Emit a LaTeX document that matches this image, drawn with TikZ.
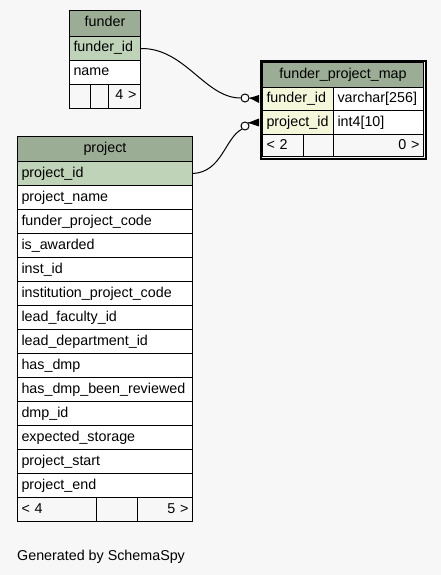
\documentclass[tikz,border=0pt]{standalone}
\usepackage{fontspec}
\setmainfont{Liberation Sans}
\definecolor{bg}{HTML}{F7F7F7}
\definecolor{hdr}{HTML}{9CAD95}
\definecolor{key}{HTML}{BED3B8}
\definecolor{fk}{HTML}{F4F7DA}
\begin{document}
\begin{tikzpicture}[x=1pt,y=-1pt,
  every node/.style={font=\fontsize{14.3}{16}\selectfont},
  cell/.style={draw, line width=1pt, anchor=north west, rectangle, inner xsep=4pt, inner ysep=0pt,
    minimum height=24pt, text height=10pt, text depth=3pt, fill=white, align=left},
  hcell/.style={cell, fill=hdr, align=center},
  kcell/.style={cell, fill=key},
  fcell/.style={cell, fill=fk},
  footcell/.style={cell, fill=bg},
  odot/.style={circle, draw, line width=1pt, fill=white, minimum size=8pt, inner sep=0pt},
  rel/.style={line width=1pt},
  crow/.style={fill=black}
]
\fill[bg] (0,0) rectangle (441,575);
\useasboundingbox (0,0) rectangle (441,575);

% funder
\node[hcell, minimum height=26pt, text width=63pt] (fhead) at (69,10) {funder};
\node[kcell, text width=63pt] (ffid) at (69,36) {funder\_id};
\node[cell, text width=63pt] (fname) at (69,60) {name};
\node[footcell, text width=13pt] (ffa) at (69,84) {};
\node[footcell, text width=10pt] (ffb) at (90,84) {};
\node[footcell, text width=24pt, align=right] (ffc) at (108,84) {4 >};

% funder_project_map
\node[draw, line width=2pt, rectangle, anchor=north west, minimum width=165pt, minimum height=98pt, inner sep=0pt] (mbox) at (260,60) {};
\node[hcell, minimum height=25pt, text width=153pt] (mhead) at (262,62) {funder\_project\_map};
\node[fcell, minimum height=23pt, text width=63pt] (mfid) at (262,87) {funder\_id};
\node[cell, minimum height=23pt, text width=82pt] (mfidt) at (333,87) {varchar[256]};
\node[fcell, text width=63pt] (mpid) at (262,110) {project\_id};
\node[cell, text width=82pt] (mpidt) at (333,110) {int4[10]};
\node[footcell, minimum height=22pt, text width=33pt] (mfa) at (262,134) {< 2};
\node[footcell, minimum height=22pt, text width=22pt] (mfb) at (303,134) {};
\node[footcell, minimum height=22pt, text width=82pt, align=right] (mfc) at (333,134) {0 >};

% project
\node[hcell, minimum height=25pt, text width=167pt] (phead) at (17,136) {project};
\node[kcell, text width=167pt] (p0) at (17,161) {project\_id};
\foreach \t [count=\i] in {project\_name, funder\_project\_code, is\_awarded, inst\_id,
  institution\_project\_code, lead\_faculty\_id, lead\_department\_id, has\_dmp,
  has\_dmp\_been\_reviewed, dmp\_id, expected\_storage, project\_start, project\_end}
  \node[cell, text width=167pt] (p\i) at (17,161+24*\i) {\t};
\node[footcell, text width=71pt] (pfa) at (17,497) {< 4};
\node[footcell, text width=33pt] (pfb) at (96,497) {};
\node[footcell, text width=47pt, align=right] (pfc) at (137,497) {5 >};

% relationships
\node[odot] (o1) at (245,98) {};
\node[odot] (o2) at (245,126) {};
\draw[rel] (ffid.east) .. controls (185,48) and (205,98) .. (o1.west);
\fill[crow] (o1.east) -- ([xshift=-3pt,yshift=4pt]mfid.west) -- ([xshift=-3pt,yshift=-4pt]mfid.west) -- cycle;
\draw[rel] (o1.east) -- ([xshift=-3pt]mfid.west);
\draw[rel] (p0.east) .. controls (222,172) and (225,138) .. (o2.south west);
\fill[crow] (o2.north east) -- ([xshift=-3pt,yshift=4pt]mpid.west) -- ([xshift=-3pt,yshift=-4pt]mpid.west) -- cycle;
\draw[rel] (o2.north east) -- ([xshift=-3pt]mpid.west);

\node[anchor=base west, inner sep=0pt] (gen) at (17,560) {Generated by SchemaSpy};
\end{tikzpicture}
\end{document}
